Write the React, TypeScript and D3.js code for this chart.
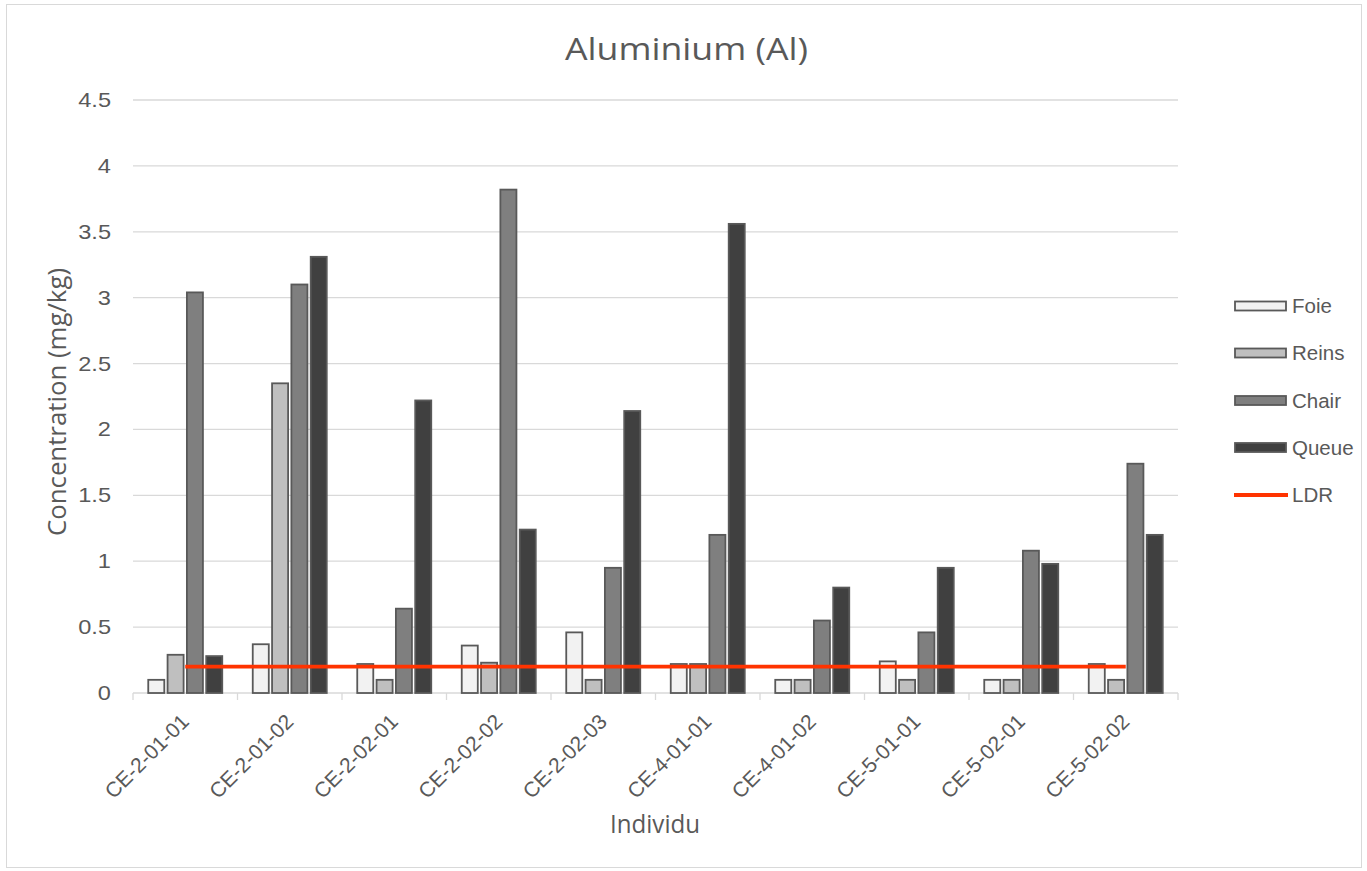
import React from "react";
import * as d3 from "d3";

const categories = ["CE-2-01-01","CE-2-01-02","CE-2-02-01","CE-2-02-02","CE-2-02-03","CE-4-01-01","CE-4-01-02","CE-5-01-01","CE-5-02-01","CE-5-02-02"];
const foie = [0.10,0.37,0.22,0.36,0.46,0.22,0.10,0.24,0.10,0.22];
const reins = [0.29,2.35,0.10,0.23,0.10,0.22,0.10,0.10,0.10,0.10];
const chair = [3.04,3.10,0.64,3.82,0.95,1.20,0.55,0.46,1.08,1.74];
const queue = [0.28,3.31,2.22,1.24,2.14,3.56,0.80,0.95,0.98,1.20];
const ldr = [0.2,0.2,0.2,0.2,0.2,0.2,0.2,0.2,0.2,0.2];
const yTicks = [0,0.5,1,1.5,2,2.5,3,3.5,4,4.5];
const seriesNames = ["Foie","Reins","Chair","Queue"];
const seriesFills = ["#F2F2F2","#BFBFBF","#7F7F7F","#404040"];

export default function App() {
  const W = 1367, H = 871;
  const left = 133, right = 1178, top = 100, bottom = 693;
  const font = "'Liberation Sans', Arial, sans-serif";
  const titleFont = "'Open Sans', 'Liberation Sans', sans-serif";
  const x = d3.scaleBand<string>().domain(categories).range([left, right]).paddingInner(0).paddingOuter(0);
  const y = d3.scaleLinear().domain([0, 4.5]).range([bottom, top]);
  const series = [foie, reins, chair, queue];
  const bw = x.bandwidth();
  const inner = d3.scaleBand<number>().domain([0,1,2,3]).range([bw/2 - 37, bw/2 + 37]).paddingInner(0.17).paddingOuter(0);
  const line = d3.line<number>().x((_, i) => (x(categories[i]) as number) + bw / 2).y(v => y(v));
  const legendY = [306, 353, 400.5, 447.5, 495];
  return (
    <svg width={W} height={H} style={{ position: "absolute", left: 0, top: 0 }} fontFamily={font}>
      <rect x={6.5} y={4.5} width={1355} height={863} fill="#fff" stroke="#D9D9D9" strokeWidth={1} />
      <text x={686.5} y={60} textAnchor="middle" fontSize={31} fill="#595959" fontFamily={titleFont}
        textLength={243} lengthAdjust="spacingAndGlyphs">Aluminium (Al)</text>
      {yTicks.map(t => (
        <g key={t}>
          {t > 0 && <line x1={left} x2={right} y1={y(t)} y2={y(t)} stroke="#D9D9D9" strokeWidth={1.3} />}
          <text transform={`translate(111,${y(t) + 7}) scale(1.18,1)`} textAnchor="end" fontSize={20} fill="#595959">{String(t)}</text>
        </g>
      ))}
      <line x1={left} x2={right} y1={bottom} y2={bottom} stroke="#D9D9D9" strokeWidth={1.3} />
      {categories.concat([""]).map((c, i) => {
        const xx = left + i * bw;
        return <line key={"t" + i} x1={xx} x2={xx} y1={bottom} y2={bottom + 7} stroke="#D9D9D9" strokeWidth={1.3} />;
      })}
      {series.map((s, si) => s.map((v, i) => (
        <rect key={si + "-" + i}
          x={(x(categories[i]) as number) + (inner(si) as number)}
          y={y(v)} width={inner.bandwidth()} height={bottom - y(v)}
          fill={seriesFills[si]} stroke="#595959" strokeWidth={1.8} />
      )))}
      <path d={line(ldr) as string} fill="none" stroke="#FF3300" strokeWidth={3.8} />
      {categories.map(c => {
        const cx = (x(c) as number) + bw / 2 + 5;
        return (
          <text key={c} transform={`translate(${cx},${723}) rotate(-45)`} textAnchor="end" fontSize={21} fill="#595959">{c}</text>
        );
      })}
      <text x={655} y={833} textAnchor="middle" fontSize={25} fill="#595959" fontFamily={titleFont}
        textLength={90} lengthAdjust="spacingAndGlyphs">Individu</text>
      <text transform={`translate(66,${402}) rotate(-90)`} textAnchor="middle" fontSize={25} fill="#595959" fontFamily={titleFont}
        textLength={268} lengthAdjust="spacingAndGlyphs">Concentration (mg/kg)</text>
      {seriesNames.map((n, i) => (
        <g key={n}>
          <rect x={1235} y={legendY[i] - 4.5} width={51} height={9} fill={seriesFills[i]} stroke="#595959" strokeWidth={1.8} />
          <text x={1292} y={legendY[i] + 7} fontSize={20.5} fill="#595959">{n}</text>
        </g>
      ))}
      <line x1={1234} x2={1288} y1={legendY[4]} y2={legendY[4]} stroke="#FF3300" strokeWidth={3.8} />
      <text x={1292} y={legendY[4] + 7} fontSize={20.5} fill="#595959">LDR</text>
    </svg>
  );
}
